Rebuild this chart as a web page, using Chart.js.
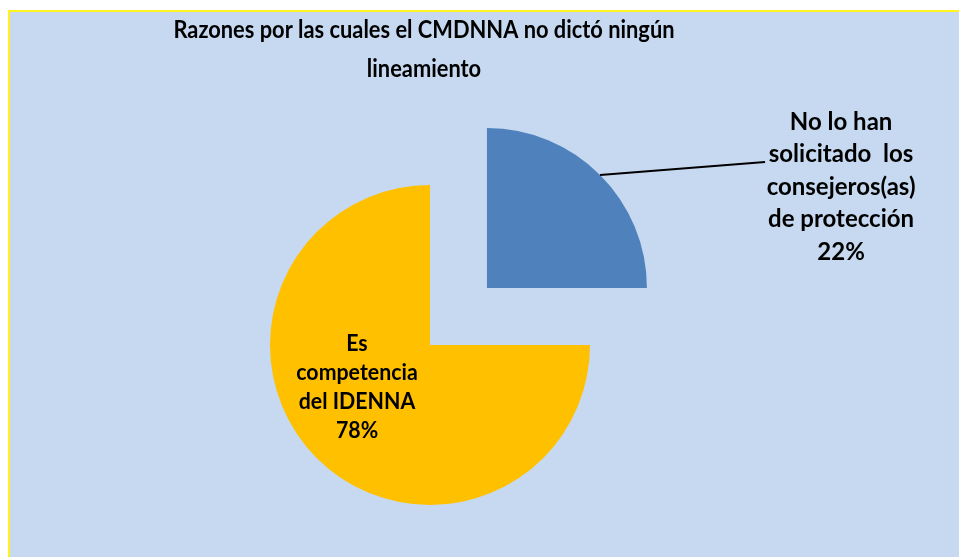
<!DOCTYPE html>
<html>
<head>
<meta charset="utf-8">
<script src="https://cdn.jsdelivr.net/npm/chart.js@4.4.1/dist/chart.umd.min.js"></script>
<style>
  html, body { margin: 0; padding: 0; background: #C6D9F0; overflow: hidden; }
  #wrap { width: 959px; height: 557px; }
  canvas { display: block; }
</style>
</head>
<body>
<div id="wrap"><canvas id="pieChart" width="959" height="557"></canvas></div>
<script>
// chart data
const titleLines = ['Razones por las cuales el CMDNNA no dictó ningún', 'lineamiento'];
const categories = ['No lo han solicitado los consejeros(as) de protección', 'Es competencia del IDENNA'];
// slice sizes as they are drawn (a quarter / three quarters)
const sliceValues = [25, 75];
// percentages as printed on the labels
const percentLabels = ['22%', '78%'];
const labelLines = [
    ['No lo han', 'solicitado  los', 'consejeros(as)', 'de protección'],
    ['Es', 'competencia', 'del IDENNA']
];
const sliceColors = ['#4F81BD', '#FFC000'];
const sliceOffsets = [322, 0];

const FONT = 'Lato, "Noto Sans", sans-serif';

// background with the yellow frame on top/left
const backgroundPlugin = {
    id: 'bg',
    beforeDraw(chart) {
        let ctx = chart.ctx;
        let w = 980, h = 580;
        ctx.save();
        ctx.fillStyle = '#ffffff';
        ctx.fillRect(0, 0, w, h);
        ctx.fillStyle = '#C6D9F0';
        ctx.fillRect(10, 12, w, h);
        ctx.fillStyle = '#FFF21F';
        ctx.fillRect(8, 10, w, 2);
        ctx.fillRect(8, 10, 2, h);
        ctx.restore();
    }
};

// Calibri-like text: a bit narrower than Lato
function drawText(ctx, text, x, y, squeeze) {
    ctx.save();
    ctx.translate(x, y);
    ctx.scale(squeeze, 1);
    ctx.fillText(text, 0, 0);
    ctx.restore();
}

const titlePlugin = {
    id: 'titleText',
    afterDraw(chart) {
        let ctx = chart.ctx;
        ctx.save();
        ctx.fillStyle = '#000';
        ctx.font = 'bold 24px ' + FONT;
        ctx.textAlign = 'center';
        ctx.textBaseline = 'alphabetic';
        titleLines.forEach(function (line, i) {
            drawText(ctx, line, 424, 38 + i * 39, 0.91);
        });
        ctx.restore();
    }
};

// data labels (no datalabels plugin available, so draw them by hand)
const labelPlugin = {
    id: 'sliceLabels',
    afterDatasetsDraw(chart) {
        let ctx = chart.ctx;
        let arcs = chart.getDatasetMeta(0).data;
        ctx.save();
        ctx.fillStyle = '#000';
        ctx.textAlign = 'center';
        ctx.textBaseline = 'alphabetic';

        // blue slice: outside label with leader line
        let a = arcs[0];
        let mid = (a.startAngle + a.endAngle) / 2;
        let off = (a.options.offset || 0) / 4;
        let cx = a.x + Math.cos(mid) * off;
        let cy = a.y + Math.sin(mid) * off;
        let ex = cx + Math.cos(mid) * a.outerRadius;
        let ey = cy + Math.sin(mid) * a.outerRadius;
        ctx.strokeStyle = '#000';
        ctx.lineWidth = 2;
        ctx.beginPath();
        ctx.moveTo(ex, ey);
        ctx.lineTo(ex + 165, ey - 13);
        ctx.stroke();
        ctx.font = 'bold 24px ' + FONT;
        labelLines[0].concat([percentLabels[0]]).forEach(function (line, i) {
            drawText(ctx, line, ex + 241, ey - 45 + i * 32.5, 1);
        });

        // yellow slice: label inside
        let b = arcs[1];
        ctx.font = 'bold 22px ' + FONT;
        labelLines[1].concat([percentLabels[1]]).forEach(function (line, i) {
            drawText(ctx, line, b.x - 73, b.y + 6 + i * 29, 0.97);
        });
        ctx.restore();
    }
};

let chart = new Chart(document.getElementById('pieChart').getContext('2d'), {
    type: 'pie',
    data: {
        labels: categories,
        datasets: [{
            data: sliceValues,
            backgroundColor: sliceColors,
            borderWidth: 0,
            offset: sliceOffsets
        }]
    },
    options: {
        responsive: false,
        animation: false,
        events: [],
        radius: 160,
        layout: { padding: { left: 10, right: 109, top: 140, bottom: 7 } },
        plugins: {
            legend: { display: false },
            title: { display: false },
            tooltip: { enabled: false }
        }
    },
    plugins: [backgroundPlugin, labelPlugin, titlePlugin]
});
</script>
</body>
</html>
